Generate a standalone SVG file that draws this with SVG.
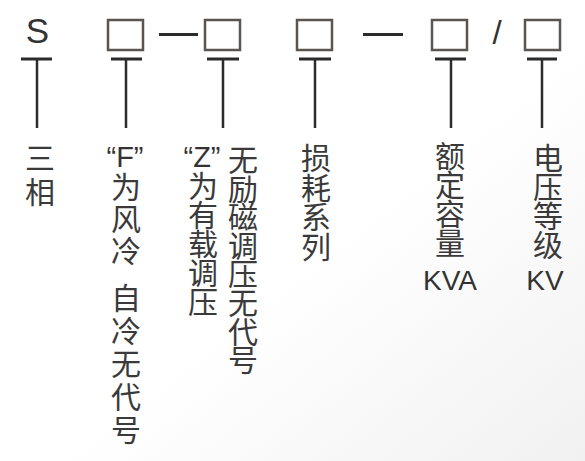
<svg xmlns="http://www.w3.org/2000/svg" width="585" height="461" viewBox="0 0 585 461">
<defs>
<linearGradient id="bg" x1="0" y1="0" x2="1" y2="1">
<stop offset="0.55" stop-color="#ffffff"/>
<stop offset="1" stop-color="#f1f1f1"/>
</linearGradient>
<style>
.box{fill:none;stroke:#5a5550;stroke-width:2.5}
.bar{stroke:#2b2b2b;stroke-width:3;fill:none}
.stem{stroke:#2b2b2b;stroke-width:2.5;fill:none}
.dash{stroke:#2b2b2b;stroke-width:3.2;fill:none}
.lat{font-family:"Liberation Sans",Arial,sans-serif;fill:#333333;text-anchor:middle}
.cjk{font-family:"Noto Sans CJK SC","Noto Sans",sans-serif;font-size:30px;fill:#3a3a3a;writing-mode:vertical-rl;text-orientation:upright}
</style>
</defs>
<rect x="0" y="0" width="585" height="461" fill="url(#bg)"/>

<g id="code-S"><text class="lat" x="37.5" y="43" font-size="35">S</text></g>
<g id="code-cooling"><rect class="box" x="108" y="20" width="35" height="30"/></g>
<g id="code-tapchanger"><rect class="box" x="205" y="20" width="35" height="30"/></g>
<g id="code-loss"><rect class="box" x="297" y="20" width="35" height="30"/></g>
<g id="code-capacity"><rect class="box" x="432" y="20" width="35" height="30"/></g>
<g id="code-voltage"><rect class="box" x="525" y="20" width="35" height="30"/></g>
<g id="separators">
<line class="dash" x1="159" y1="34.5" x2="198" y2="34.5"/>
<line class="dash" x1="363" y1="34.5" x2="403" y2="34.5"/>
<text class="lat" x="497" y="44" font-size="33">/</text>
</g>

<g id="connectors">
<line class="bar" x1="21" y1="59" x2="52" y2="59"/><line class="stem" x1="37" y1="59" x2="37" y2="128"/>
<line class="bar" x1="111" y1="59" x2="142" y2="59"/><line class="stem" x1="126" y1="59" x2="126" y2="128"/>
<line class="bar" x1="207" y1="59" x2="239" y2="59"/><line class="stem" x1="223" y1="59" x2="223" y2="128"/>
<line class="bar" x1="299" y1="59" x2="331" y2="59"/><line class="stem" x1="315" y1="59" x2="315" y2="128"/>
<line class="bar" x1="435" y1="59" x2="466" y2="59"/><line class="stem" x1="451" y1="59" x2="451" y2="128"/>
<line class="bar" x1="527" y1="59" x2="557" y2="59"/><line class="stem" x1="542" y1="59" x2="542" y2="128"/>
</g>

<g id="label-S">
<text class="cjk" x="40" y="142.6" letter-spacing="4">三相</text>
</g>
<g id="label-cooling">
<text class="lat" x="125" y="167" font-size="29">“F”</text>
<text class="cjk" x="126" y="171.6" letter-spacing="2">为风冷</text>
<text class="cjk" x="126" y="282.6" letter-spacing="3">自冷无代号</text>
</g>
<g id="label-tapchanger">
<text class="lat" x="202" y="167" font-size="29">“Z”</text>
<text class="cjk" x="203" y="170.6" letter-spacing="-1">为有载调压</text>
<text class="cjk" x="243" y="144.6" letter-spacing="-1.4">无励磁调压无代号</text>
</g>
<g id="label-loss">
<text class="cjk" x="316" y="142.6" letter-spacing="-0.3">损耗系列</text>
</g>
<g id="label-capacity">
<text class="cjk" x="450" y="140.6" letter-spacing="-1">额定容量</text>
<text class="lat" x="450" y="290" font-size="28">KVA</text>
</g>
<g id="label-voltage">
<text class="cjk" x="548" y="142.6" letter-spacing="-1">电压等级</text>
<text class="lat" x="545" y="290" font-size="28">KV</text>
</g>
</svg>
